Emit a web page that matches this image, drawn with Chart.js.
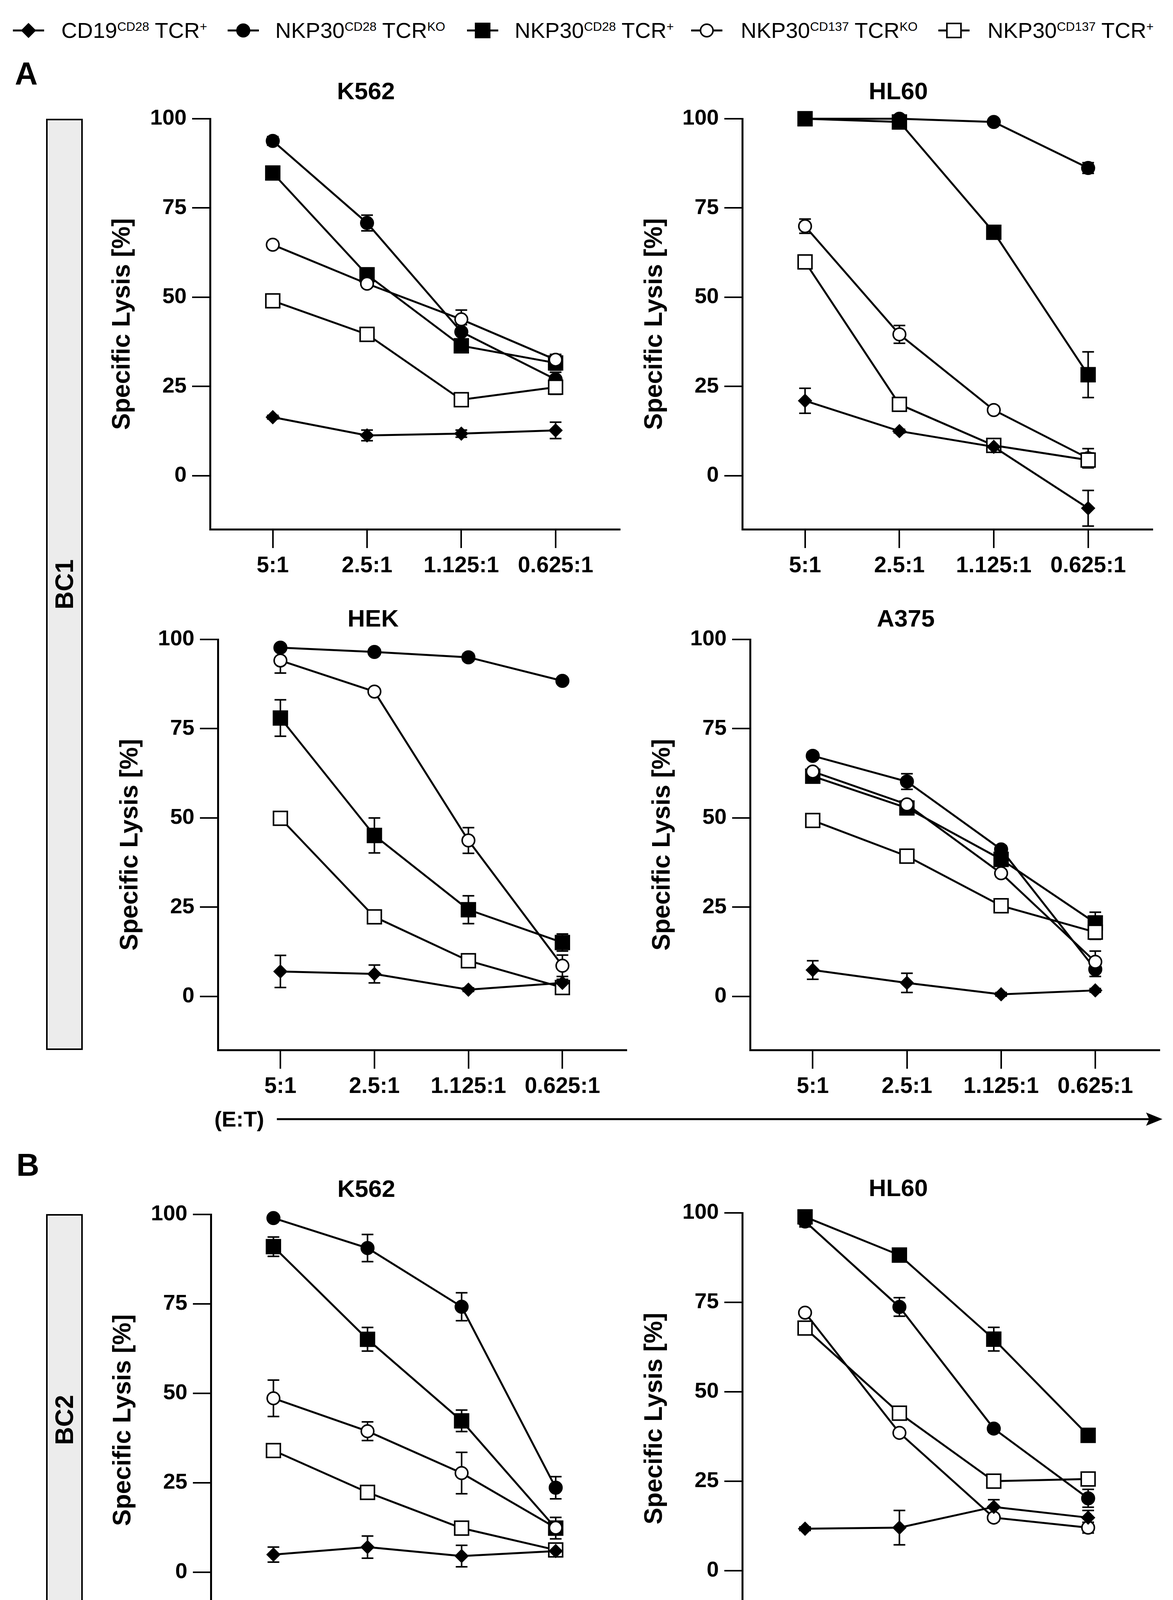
<!DOCTYPE html>
<html>
<head>
<meta charset="utf-8">
<script src="https://cdn.jsdelivr.net/npm/chart.js@4.4.1/dist/chart.umd.min.js"></script>
<style>
  html, body { margin: 0; padding: 0; background: #fff; }
  body { width: 3004px; height: 4409px; position: relative; overflow: hidden;
         font-family: "Liberation Sans", Arial, Helvetica, sans-serif; color: #000; }
  canvas { position: absolute; }
  .abs { position: absolute; white-space: nowrap; }
  .bold { font-weight: bold; }
  .box { position: absolute; background: #ececec; border: 4px solid #000; box-sizing: border-box; }
  .rot { position: absolute; white-space: nowrap; font-weight: bold; font-size: 64px; line-height: 64px;
         transform: translate(-50%, -50%) rotate(-90deg); }
  .leg { position: absolute; white-space: nowrap; font-size: 56px; line-height: 56px; }
  .leg sup { font-size: 32px; line-height: 0; vertical-align: 18px; }
</style>
</head>
<body>
<div id="root"></div>
<script>
// ---------- shared labels ----------
const FONT = '"Liberation Sans", Arial, Helvetica, sans-serif';
const categories = ['5:1', '2.5:1', '1.125:1', '0.625:1'];
const xValues = [1, 2, 3, 4];
const yTicks = [0, 25, 50, 75, 100];
const yTitle = 'Specific Lysis [%]';
const legendParts = [
  ['CD19', 'CD28', 'TCR', '+'],
  ['NKP30', 'CD28', 'TCR', 'KO'],
  ['NKP30', 'CD28', 'TCR', '+'],
  ['NKP30', 'CD137', 'TCR', 'KO'],
  ['NKP30', 'CD137', 'TCR', '+']
];

// ---------- data (mean, error) ----------
// BC1 K562
const bc1_K562_CD19       = [16.4, 11.3, 11.8, 12.7];
const bc1_K562_CD19_sd    = [0.5, 1.5, 1.0, 2.3];
const bc1_K562_CD28KO     = [93.8, 70.8, 40.3, 27.0];
const bc1_K562_CD28KO_sd  = [1.2, 2.2, 2.0, 2.0];
const bc1_K562_CD28P      = [84.8, 56.3, 36.4, 31.6];
const bc1_K562_CD28P_sd   = [1.5, 1.0, 1.0, 2.0];
const bc1_K562_CD137KO    = [64.7, 53.8, 43.8, 32.5];
const bc1_K562_CD137KO_sd = [1.0, 1.0, 2.6, 1.5];
const bc1_K562_CD137P     = [49.0, 39.6, 21.3, 24.8];
const bc1_K562_CD137P_sd  = [1.0, 1.0, 1.0, 2.0];
// BC1 HL60
const bc1_HL60_CD19       = [21.0, 12.5, 8.1, -9.1];
const bc1_HL60_CD19_sd    = [3.5, 0.5, 1.0, 5.0];
const bc1_HL60_CD28KO     = [100.0, 100.0, 99.1, 86.2];
const bc1_HL60_CD28KO_sd  = [0.5, 0.5, 0.5, 1.5];
const bc1_HL60_CD28P      = [100.0, 99.1, 68.2, 28.3];
const bc1_HL60_CD28P_sd   = [0.5, 0.5, 1.0, 6.4];
const bc1_HL60_CD137KO    = [69.9, 39.6, 18.4, 4.9];
const bc1_HL60_CD137KO_sd = [2.0, 2.5, 1.0, 2.7];
const bc1_HL60_CD137P     = [59.9, 20.0, 8.5, 4.4];
const bc1_HL60_CD137P_sd  = [1.0, 1.0, 1.5, 2.0];
// BC1 HEK
const bc1_HEK_CD19        = [7.0, 6.3, 1.9, 3.8];
const bc1_HEK_CD19_sd     = [4.5, 2.5, 0.5, 1.0];
const bc1_HEK_CD28KO      = [97.7, 96.5, 95.0, 88.4];
const bc1_HEK_CD28KO_sd   = [0.5, 0.5, 1.0, 0.5];
const bc1_HEK_CD28P       = [78.0, 45.1, 24.3, 15.1];
const bc1_HEK_CD28P_sd    = [5.1, 4.9, 3.9, 2.4];
const bc1_HEK_CD137KO     = [94.1, 85.4, 43.7, 8.6];
const bc1_HEK_CD137KO_sd  = [3.5, 0.5, 3.6, 3.0];
const bc1_HEK_CD137P      = [49.9, 22.3, 10.0, 2.5];
const bc1_HEK_CD137P_sd   = [0.5, 0.5, 0.5, 1.0];
// BC1 A375
const bc1_A375_CD19       = [7.4, 3.8, 0.6, 1.7];
const bc1_A375_CD19_sd    = [2.6, 2.7, 0.5, 0.5];
const bc1_A375_CD28KO     = [67.4, 60.2, 41.2, 7.6];
const bc1_A375_CD28KO_sd  = [1.0, 2.2, 1.0, 2.0];
const bc1_A375_CD28P      = [61.7, 52.8, 38.4, 20.6];
const bc1_A375_CD28P_sd   = [1.0, 1.0, 1.5, 3.0];
const bc1_A375_CD137KO    = [63.0, 53.8, 34.5, 9.7];
const bc1_A375_CD137KO_sd = [1.0, 1.0, 1.0, 3.0];
const bc1_A375_CD137P     = [49.3, 39.3, 25.4, 18.0];
const bc1_A375_CD137P_sd  = [0.5, 0.5, 0.5, 2.0];
// BC2 K562
const bc2_K562_CD19       = [4.9, 7.0, 4.5, 5.9];
const bc2_K562_CD19_sd    = [2.1, 3.1, 3.0, 1.0];
const bc2_K562_CD28KO     = [99.0, 90.6, 74.2, 23.6];
const bc2_K562_CD28KO_sd  = [0.5, 3.8, 3.9, 3.1];
const bc2_K562_CD28P      = [91.0, 65.1, 42.3, 12.3];
const bc2_K562_CD28P_sd   = [2.7, 3.3, 3.0, 3.0];
const bc2_K562_CD137KO    = [48.6, 39.4, 27.7, 12.4];
const bc2_K562_CD137KO_sd = [5.1, 2.6, 5.8, 1.5];
const bc2_K562_CD137P     = [34.0, 22.3, 12.3, 6.2];
const bc2_K562_CD137P_sd  = [0.5, 0.5, 0.5, 1.0];
// BC2 HL60
const bc2_HL60_CD19       = [11.7, 12.0, 17.8, 14.8];
const bc2_HL60_CD19_sd    = [0.5, 4.8, 2.0, 2.0];
const bc2_HL60_CD28KO     = [97.6, 73.7, 39.7, 20.2];
const bc2_HL60_CD28KO_sd  = [1.5, 2.6, 1.0, 2.5];
const bc2_HL60_CD28P      = [98.9, 88.2, 64.7, 37.8];
const bc2_HL60_CD28P_sd   = [1.0, 1.5, 3.3, 1.0];
const bc2_HL60_CD137KO    = [72.1, 38.5, 14.8, 12.0];
const bc2_HL60_CD137KO_sd = [0.5, 0.5, 1.0, 1.5];
const bc2_HL60_CD137P     = [67.8, 44.0, 25.0, 25.6];
const bc2_HL60_CD137P_sd  = [0.5, 0.5, 0.5, 1.5];

// ---------- styles & layout ----------
const seriesStyles = [
  { pointStyle: 'rectRot', radius: 17, fill: '#000', bw: 2, order: -10 },
  { pointStyle: 'circle',  radius: 16, fill: '#000', bw: 4, order: -1 },
  { pointStyle: 'rect',    radius: 25, fill: '#000', bw: 4, order: -2 },
  { pointStyle: 'circle',  radius: 16, fill: '#fff', bw: 4, order: -3 },
  { pointStyle: 'rect',    radius: 25, fill: '#fff', bw: 4, order: -4 }
];
const YW = 260, XH = 150, PR = 20;

const panels = [
  { title: 'K562', axisX: 538,  top: 304,  bottom: 1355, right: 1596, gap: 67,
    vals: [bc1_K562_CD19, bc1_K562_CD28KO, bc1_K562_CD28P, bc1_K562_CD137KO, bc1_K562_CD137P],
    errs: [bc1_K562_CD19_sd, bc1_K562_CD28KO_sd, bc1_K562_CD28P_sd, bc1_K562_CD137KO_sd, bc1_K562_CD137P_sd] },
  { title: 'HL60', axisX: 1901, top: 304,  bottom: 1355, right: 2960, gap: 67,
    vals: [bc1_HL60_CD19, bc1_HL60_CD28KO, bc1_HL60_CD28P, bc1_HL60_CD137KO, bc1_HL60_CD137P],
    errs: [bc1_HL60_CD19_sd, bc1_HL60_CD28KO_sd, bc1_HL60_CD28P_sd, bc1_HL60_CD137KO_sd, bc1_HL60_CD137P_sd] },
  { title: 'HEK',  axisX: 558,  top: 1637, bottom: 2688, right: 1613, gap: 50,
    vals: [bc1_HEK_CD19, bc1_HEK_CD28KO, bc1_HEK_CD28P, bc1_HEK_CD137KO, bc1_HEK_CD137P],
    errs: [bc1_HEK_CD19_sd, bc1_HEK_CD28KO_sd, bc1_HEK_CD28P_sd, bc1_HEK_CD137KO_sd, bc1_HEK_CD137P_sd] },
  { title: 'A375', axisX: 1921, top: 1637, bottom: 2688, right: 2978, gap: 50,
    vals: [bc1_A375_CD19, bc1_A375_CD28KO, bc1_A375_CD28P, bc1_A375_CD137KO, bc1_A375_CD137P],
    errs: [bc1_A375_CD19_sd, bc1_A375_CD28KO_sd, bc1_A375_CD28P_sd, bc1_A375_CD137KO_sd, bc1_A375_CD137P_sd] },
  { title: 'K562', axisX: 540,  top: 3109, bottom: 4162, right: 1596, gap: 62,
    vals: [bc2_K562_CD19, bc2_K562_CD28KO, bc2_K562_CD28P, bc2_K562_CD137KO, bc2_K562_CD137P],
    errs: [bc2_K562_CD19_sd, bc2_K562_CD28KO_sd, bc2_K562_CD28P_sd, bc2_K562_CD137KO_sd, bc2_K562_CD137P_sd] },
  { title: 'HL60', axisX: 1901, top: 3105, bottom: 4158, right: 2960, gap: 60,
    vals: [bc2_HL60_CD19, bc2_HL60_CD28KO, bc2_HL60_CD28P, bc2_HL60_CD137KO, bc2_HL60_CD137P],
    errs: [bc2_HL60_CD19_sd, bc2_HL60_CD28KO_sd, bc2_HL60_CD28P_sd, bc2_HL60_CD137KO_sd, bc2_HL60_CD137P_sd] }
];

const root = document.getElementById('root');
function addEl(tag, cls, css, html) {
  const e = document.createElement(tag);
  if (cls) e.className = cls;
  Object.assign(e.style, css);
  if (html !== undefined) e.innerHTML = html;
  root.appendChild(e);
  return e;
}

// ---------- error bar plugin ----------
const errorBarPlugin = {
  id: 'errorBars',
  beforeDatasetsDraw(chart) {
    const ctx = chart.ctx, xs = chart.scales.x, ys = chart.scales.y;
    ctx.save();
    ctx.strokeStyle = '#000';
    ctx.lineWidth = 4;
    chart.data.datasets.forEach(ds => {
      if (!ds.errors) return;
      ds.data.forEach((p, j) => {
        const e = ds.errors[j];
        if (!e) return;
        const px = xs.getPixelForValue(p.x);
        const yt = ys.getPixelForValue(p.y + e);
        const yb = ys.getPixelForValue(p.y - e);
        ctx.beginPath();
        ctx.moveTo(px, yt); ctx.lineTo(px, yb);
        ctx.moveTo(px - 15, yt); ctx.lineTo(px + 15, yt);
        ctx.moveTo(px - 15, yb); ctx.lineTo(px + 15, yb);
        ctx.stroke();
      });
    });
    ctx.restore();
  }
};

// ---------- charts ----------
panels.forEach((pn) => {
  const TITLE = 62;
  const pb = pn.gap - TITLE / 2;
  const titleBox = TITLE + pb;
  const cv = document.createElement('canvas');
  const w = YW + (pn.right - pn.axisX) + PR;
  const h = titleBox + (pn.bottom - pn.top) + XH;
  cv.width = w; cv.height = h;
  cv.style.left = (pn.axisX - YW) + 'px';
  cv.style.top = (pn.top - titleBox) + 'px';
  cv.style.width = w + 'px'; cv.style.height = h + 'px';
  root.appendChild(cv);

  const datasets = pn.vals.map((vals, i) => {
    const st = seriesStyles[i];
    return {
      label: legendParts[i].join(' '),
      data: xValues.map((x, j) => ({ x: x, y: vals[j] })),
      errors: pn.errs[i],
      borderColor: '#000',
      borderWidth: 5,
      backgroundColor: st.fill,
      pointStyle: st.pointStyle,
      pointRadius: st.radius,
      pointHoverRadius: st.radius,
      pointBorderWidth: st.bw,
      pointBorderColor: '#000',
      pointBackgroundColor: st.fill,
      fill: false,
      tension: 0,
      clip: false,
      order: st.order
    };
  });

  new Chart(cv, {
    type: 'line',
    data: { datasets: datasets },
    plugins: [errorBarPlugin],
    options: {
      responsive: false,
      animation: false,
      events: [],
      layout: { padding: { left: 0, right: PR, top: 0, bottom: 0 } },
      plugins: {
        legend: { display: false },
        tooltip: { enabled: false },
        title: {
          display: true, text: pn.title, color: '#000',
          font: { family: FONT, size: TITLE, weight: 'bold', lineHeight: 1 },
          padding: { top: 0, bottom: pb }
        }
      },
      scales: {
        x: {
          type: 'linear', min: 0.335, max: 4.68,
          afterBuildTicks: s => { s.ticks = xValues.map(v => ({ value: v })); },
          afterFit: s => { s.height = XH; },
          ticks: {
            callback: (v, i) => categories[i],
            color: '#000', font: { family: FONT, size: 57, weight: 'bold' },
            padding: 12, maxRotation: 0, minRotation: 0, autoSkip: false
          },
          grid: { drawOnChartArea: false, drawTicks: true, tickLength: 48, tickWidth: 4,
                  tickColor: '#000', color: '#000', lineWidth: 4 },
          border: { display: true, color: '#000', width: 5 }
        },
        y: {
          type: 'linear', min: -15, max: 100,
          afterBuildTicks: s => { s.ticks = yTicks.map(v => ({ value: v })); },
          afterFit: s => { s.width = YW; },
          ticks: { color: '#000', font: { family: FONT, size: 56, weight: 'bold' }, padding: 14 },
          grid: { drawOnChartArea: false, drawTicks: true, tickLength: 46, tickWidth: 4,
                  tickColor: '#000', color: '#000', lineWidth: 4 },
          border: { display: true, color: '#000', width: 5 },
          title: { display: true, text: yTitle, color: '#000',
                   font: { family: FONT, size: 64, weight: 'bold', lineHeight: 1 },
                   padding: { top: 4, bottom: 0 } }
        }
      }
    }
  });
});

// ---------- legend ----------
const legSymX = [73, 623, 1236, 1810, 2443];
const legTextX = [157, 705, 1318, 1897, 2529];
function symbolSvg(i) {
  const st = seriesStyles[i];
  let m = '';
  if (st.pointStyle === 'rectRot') m = '<polygon points="40,5 58,23 40,41 22,23" fill="#000" stroke="#000" stroke-width="2"/>';
  else if (st.pointStyle === 'circle') m = '<circle cx="40" cy="23" r="16" fill="' + st.fill + '" stroke="#000" stroke-width="4"/>';
  else m = '<rect x="22" y="5" width="36" height="36" fill="' + st.fill + '" stroke="#000" stroke-width="4"/>';
  return '<svg width="80" height="46" xmlns="http://www.w3.org/2000/svg"><line x1="0" y1="23" x2="80" y2="23" stroke="#000" stroke-width="5"/>' + m + '</svg>';
}
legendParts.forEach((p, i) => {
  addEl('div', 'abs', { left: (legSymX[i] - 40) + 'px', top: (78 - 23) + 'px', width: '80px', height: '46px' }, symbolSvg(i));
  addEl('div', 'leg', { left: legTextX[i] + 'px', top: '50px' },
        p[0] + '<sup>' + p[1] + '</sup> ' + p[2] + '<sup>' + p[3] + '</sup>');
});

// ---------- panel letters, side boxes, E:T arrows ----------
addEl('div', 'abs bold', { left: '38px', top: '148px', fontSize: '81px', lineHeight: '81px' }, 'A');
addEl('div', 'abs bold', { left: '42px', top: '2942px', fontSize: '81px', lineHeight: '81px' }, 'B');

addEl('div', 'box', { left: '118px', top: '304px', width: '94px', height: (2688 - 304) + 'px' });
addEl('div', 'rot', { left: '165px', top: '1496px' }, 'BC1');
addEl('div', 'box', { left: '118px', top: '3108px', width: '94px', height: (4161 - 3108) + 'px' });
addEl('div', 'rot', { left: '165px', top: '3635px' }, 'BC2');

function arrow(textLeft, y, x1, x2) {
  addEl('div', 'abs bold', { left: textLeft + 'px', top: (y - 28) + 'px', fontSize: '56px', lineHeight: '56px' }, '(E:T)');
  const svg = '<svg width="' + (x2 - x1) + '" height="40" xmlns="http://www.w3.org/2000/svg">' +
    '<line x1="0" y1="20" x2="' + (x2 - x1 - 30) + '" y2="20" stroke="#000" stroke-width="5"/>' +
    '<polygon points="' + (x2 - x1 - 42) + ',3 ' + (x2 - x1) + ',20 ' + (x2 - x1 - 42) + ',37 ' + (x2 - x1 - 34) + ',20" fill="#000"/></svg>';
  addEl('div', 'abs', { left: x1 + 'px', top: (y - 20) + 'px' }, svg);
}
arrow(549, 2865, 709, 2977);
arrow(546, 4349, 703, 2902);
</script>
</body>
</html>
